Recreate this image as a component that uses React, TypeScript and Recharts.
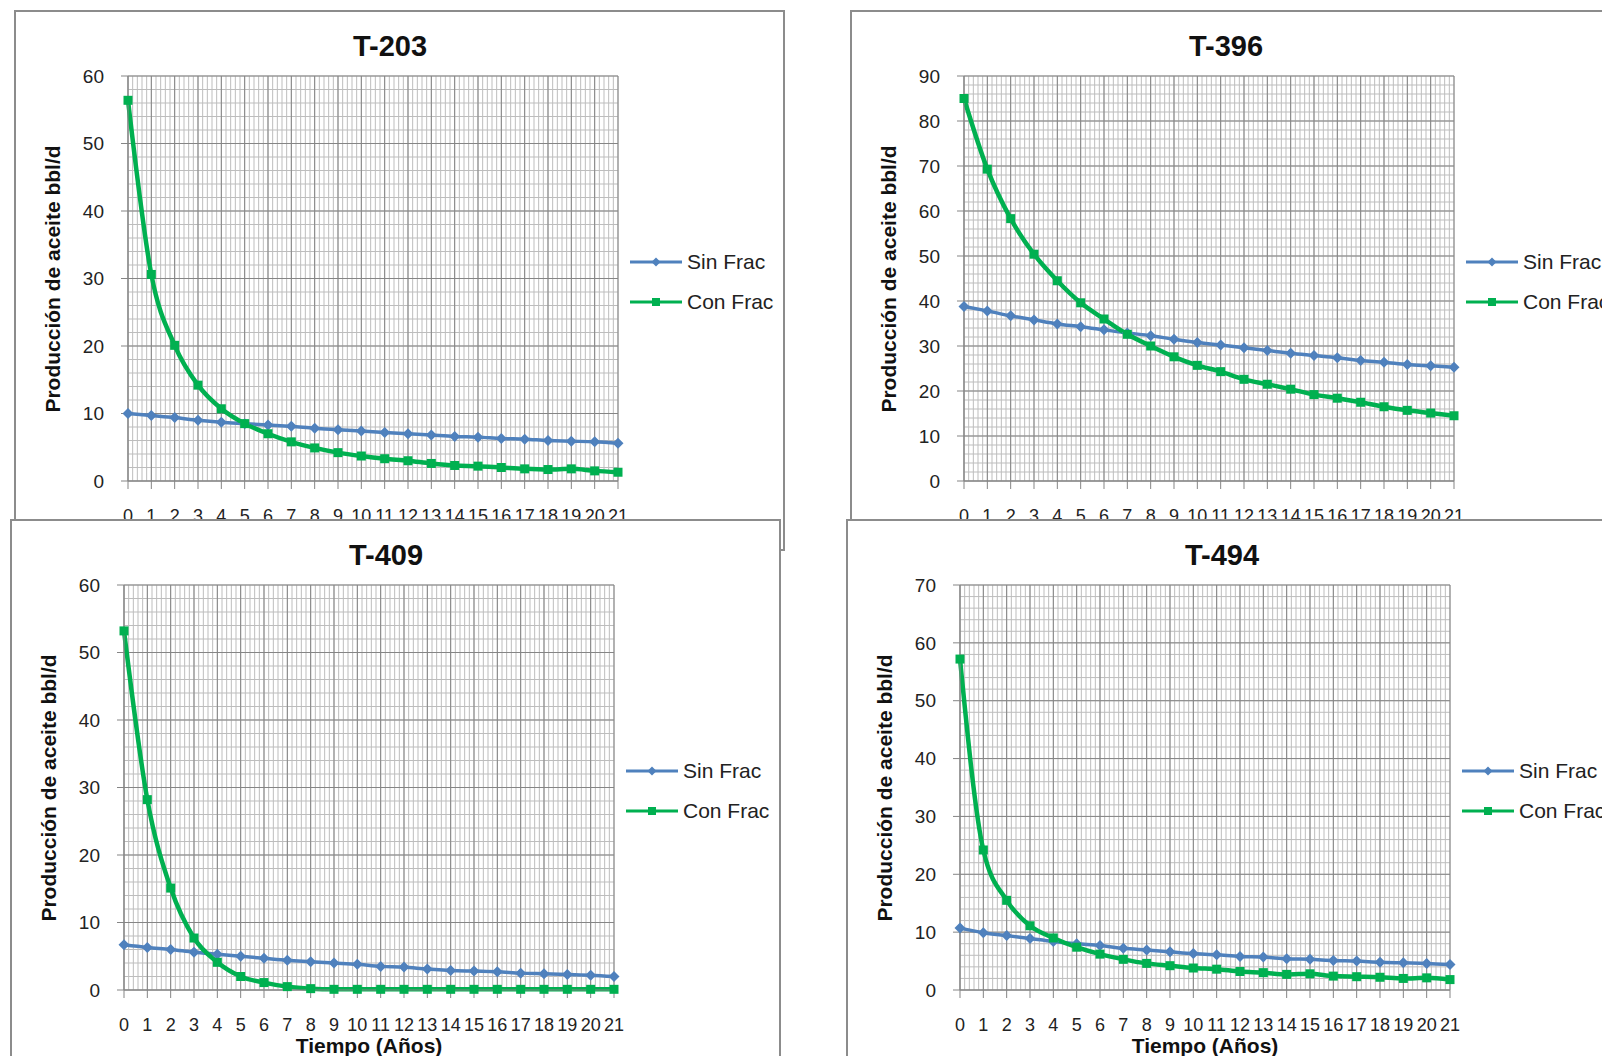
import React from "react";
import { LineChart, Line, XAxis, YAxis, CartesianGrid } from "recharts";

// años 0..21
const years = [0, 1, 2, 3, 4, 5, 6, 7, 8, 9, 10, 11, 12, 13, 14, 15, 16, 17, 18, 19, 20, 21];

const t203Sin = [10.0, 9.7, 9.4, 9.0, 8.7, 8.5, 8.3, 8.1, 7.8, 7.6, 7.4, 7.2, 7.0, 6.8, 6.6, 6.5, 6.3, 6.2, 6.0, 5.9, 5.8, 5.6];
const t203Con = [56.4, 30.6, 20.1, 14.2, 10.7, 8.5, 7.0, 5.8, 4.9, 4.2, 3.7, 3.3, 3.0, 2.6, 2.3, 2.2, 2.0, 1.8, 1.7, 1.8, 1.5, 1.3];

const t396Sin = [38.8, 37.8, 36.7, 35.8, 34.9, 34.3, 33.6, 32.9, 32.3, 31.5, 30.8, 30.2, 29.6, 29.0, 28.4, 27.9, 27.4, 26.8, 26.4, 25.9, 25.6, 25.3];
const t396Con = [85.0, 69.3, 58.3, 50.4, 44.5, 39.6, 36.0, 32.6, 30.0, 27.6, 25.7, 24.3, 22.6, 21.5, 20.4, 19.2, 18.4, 17.5, 16.5, 15.7, 15.1, 14.5];

const t409Sin = [6.7, 6.3, 6.0, 5.6, 5.3, 5.0, 4.7, 4.4, 4.2, 4.0, 3.8, 3.5, 3.4, 3.1, 2.9, 2.8, 2.7, 2.5, 2.4, 2.3, 2.2, 2.0];
const t409Con = [53.2, 28.2, 15.1, 7.7, 4.1, 2.0, 1.1, 0.5, 0.2, 0.1, 0.1, 0.1, 0.1, 0.1, 0.1, 0.1, 0.1, 0.1, 0.1, 0.1, 0.1, 0.1];

const t494Sin = [10.7, 9.9, 9.4, 8.9, 8.4, 8.0, 7.7, 7.2, 6.9, 6.6, 6.3, 6.1, 5.8, 5.7, 5.4, 5.3, 5.1, 5.0, 4.8, 4.7, 4.6, 4.4];
const t494Con = [57.2, 24.2, 15.5, 11.1, 9.0, 7.4, 6.2, 5.3, 4.6, 4.2, 3.8, 3.6, 3.2, 3.0, 2.7, 2.8, 2.4, 2.3, 2.2, 2.0, 2.1, 1.8];

const yTicks60 = [0, 10, 20, 30, 40, 50, 60];
const yTicks70 = [0, 10, 20, 30, 40, 50, 60, 70];
const yTicks90 = [0, 10, 20, 30, 40, 50, 60, 70, 80, 90];

const BLUE = "#4F81BD";
const GREEN = "#00B050";
const FONT = "'Liberation Sans', Arial, sans-serif";

// minor grid: 5 subdivisions per category, every 2 units on y
const minorX = Array.from({ length: 21 * 5 + 1 }, (_, i) => i / 5);
const minorY = (max: number) => Array.from({ length: max / 2 + 1 }, (_, i) => i * 2);

const rows = (sin: number[], con: number[]) =>
    years.map((t, i) => ({ t, sin: sin[i], con: con[i] }));

const Diamond = (props: any) => {
    const { cx, cy } = props;
    if (cx == null || cy == null) return null;
    const r = 5.5;
    return <polygon points={`${cx},${cy - r} ${cx + r},${cy} ${cx},${cy + r} ${cx - r},${cy}`} fill={BLUE} />;
};

const Square = (props: any) => {
    const { cx, cy } = props;
    if (cx == null || cy == null) return null;
    return <rect x={cx - 4.5} y={cy - 4.5} width={9} height={9} fill={GREEN} />;
};

function LegendRow({ top, color, label, marker }: any) {
    return (
        <div style={{ position: "absolute", left: 614, top: top - 12, height: 24, display: "flex", alignItems: "center", whiteSpace: "nowrap" }}>
            <svg width={52} height={14}>
                <line x1={0} y1={7} x2={52} y2={7} stroke={color} strokeWidth={3} />
                {marker === "diamond" ? (
                    <polygon points="26,2.5 30.5,7 26,11.5 21.5,7" fill={color} />
                ) : (
                    <rect x={22} y={3} width={8} height={8} fill={color} />
                )}
            </svg>
            <span style={{ marginLeft: 5, fontSize: 21, lineHeight: "24px", color: "#222", fontFamily: FONT }}>{label}</span>
        </div>
    );
}

interface PanelProps {
    left: number;
    top: number;
    z: number;
    title: string;
    sin: number[];
    con: number[];
    yTicks: number[];
}

function Panel({ left, top, z, title, sin, con, yTicks }: PanelProps) {
    const yMax = yTicks[yTicks.length - 1];
    const data = rows(sin, con);
    return (
        <div
            style={{
                position: "absolute",
                left,
                top,
                width: 771,
                height: 541,
                boxSizing: "border-box",
                border: "2px solid #8c8c8c",
                background: "#fff",
                zIndex: z,
            }}
        >
            <LineChart width={767} height={537} data={data} margin={{ top: 64, right: 165, bottom: 8, left: 20 }} style={{ fontFamily: FONT }}>
                <CartesianGrid stroke="#bdbdbd" strokeWidth={1} verticalValues={minorX} horizontalValues={minorY(yMax)} />
                <CartesianGrid stroke="#858585" strokeWidth={1} verticalValues={years} horizontalValues={yTicks} />
                <XAxis
                    type="number"
                    dataKey="t"
                    domain={[0, 21]}
                    ticks={years}
                    interval={0}
                    height={60}
                    tickSize={8}
                    tickMargin={20}
                    stroke="#858585"
                    tick={{ fill: "#222", fontSize: 18 }}
                    label={{
                        content: () => (
                            <text x={357} y={524} textAnchor="middle" dominantBaseline="central" fontWeight="bold" fontSize={21} fill="#111">
                                Tiempo (Años)
                            </text>
                        ),
                    }}
                />
                <YAxis
                    type="number"
                    domain={[0, yMax]}
                    ticks={yTicks}
                    interval={0}
                    width={92}
                    tickSize={7}
                    tickMargin={17}
                    stroke="#858585"
                    tick={{ fill: "#222", fontSize: 19 }}
                    label={{
                        content: () => (
                            <text
                                x={36}
                                y={267}
                                transform="rotate(-90 36 267)"
                                textAnchor="middle"
                                dominantBaseline="central"
                                fontWeight="bold"
                                fontSize={21}
                                fill="#111"
                            >
                                Producción de aceite bbl/d
                            </text>
                        ),
                    }}
                />
                <Line type="monotone" dataKey="sin" name="Sin Frac" stroke={BLUE} strokeWidth={3.5} dot={<Diamond />} activeDot={false} isAnimationActive={false} />
                <Line type="monotone" dataKey="con" name="Con Frac" stroke={GREEN} strokeWidth={4.5} dot={<Square />} activeDot={false} isAnimationActive={false} />
            </LineChart>
            <div
                style={{
                    position: "absolute",
                    left: 0,
                    width: 748,
                    top: 17,
                    textAlign: "center",
                    fontFamily: FONT,
                    fontWeight: "bold",
                    fontSize: 29,
                    lineHeight: "34px",
                    color: "#111",
                }}
            >
                {title}
            </div>
            <LegendRow top={250} color={BLUE} label="Sin Frac" marker="diamond" />
            <LegendRow top={290} color={GREEN} label="Con Frac" marker="square" />
        </div>
    );
}

export default function App() {
    return (
        <div style={{ position: "absolute", left: 0, top: 0, width: 1602, height: 1056, overflow: "hidden", background: "#fff" }}>
            <Panel left={14} top={10} z={1} title="T-203" sin={t203Sin} con={t203Con} yTicks={yTicks60} />
            <Panel left={850} top={10} z={1} title="T-396" sin={t396Sin} con={t396Con} yTicks={yTicks90} />
            <Panel left={10} top={519} z={2} title="T-409" sin={t409Sin} con={t409Con} yTicks={yTicks60} />
            <Panel left={846} top={519} z={2} title="T-494" sin={t494Sin} con={t494Con} yTicks={yTicks70} />
        </div>
    );
}
